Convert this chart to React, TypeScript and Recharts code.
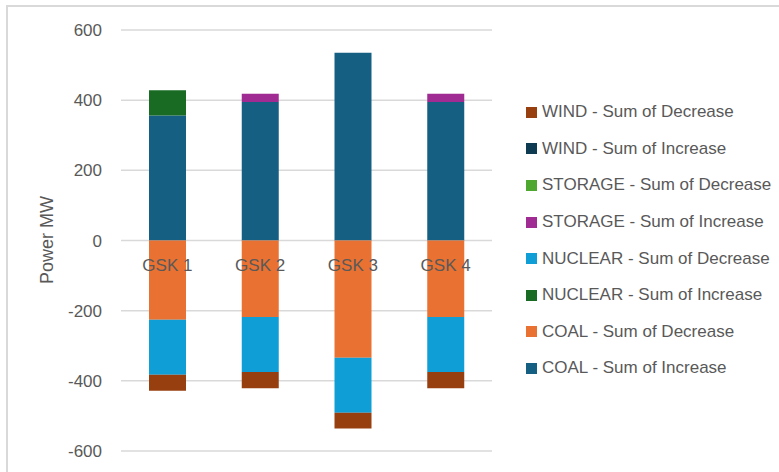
import { BarChart, Bar, XAxis, YAxis, CartesianGrid, Label } from "recharts"

const categories = ["GSK 1", "GSK 2", "GSK 3", "GSK 4"]

// series in Excel plot order (legend shows them reversed)
const coalIncrease = [356, 395, 535, 395]
const coalDecrease = [-226, -218, -334, -218]
const nuclearIncrease = [72, 0, 0, 0]
const nuclearDecrease = [-157, -157, -157, -157]
const storageIncrease = [0, 23, 0, 23]
const storageDecrease = [0, 0, 0, 0]
const windIncrease = [0, 0, 0, 0]
const windDecrease = [-45, -46, -45, -46]

const yTicks = [-600, -400, -200, 0, 200, 400, 600]

const series = [
  { key: "coalInc", name: "COAL - Sum of Increase", values: coalIncrease, color: "#156082" },
  { key: "coalDec", name: "COAL - Sum of Decrease", values: coalDecrease, color: "#E97132" },
  { key: "nucInc", name: "NUCLEAR - Sum of Increase", values: nuclearIncrease, color: "#196B24" },
  { key: "nucDec", name: "NUCLEAR - Sum of Decrease", values: nuclearDecrease, color: "#0F9ED5" },
  { key: "stoInc", name: "STORAGE - Sum of Increase", values: storageIncrease, color: "#A02B93" },
  { key: "stoDec", name: "STORAGE - Sum of Decrease", values: storageDecrease, color: "#4EA72E" },
  { key: "windInc", name: "WIND - Sum of Increase", values: windIncrease, color: "#0E3A52" },
  { key: "windDec", name: "WIND - Sum of Decrease", values: windDecrease, color: "#983F10" },
]

const data = categories.map((name, i) => {
  const row: any = { name }
  series.forEach((s) => {
    row[s.key] = s.values[i]
  })
  return row
})

const FONT = "'Liberation Sans', Arial, sans-serif"
const TEXT = "#595959"

const TOP = 30
const PLOT_H = 421

// category labels sit just under the zero line, like Excel's "next to axis"
const CategoryTick = (props: any) => {
  const { x, payload } = props
  const zeroY = TOP + PLOT_H / 2
  return (
    <text
      x={x}
      y={zeroY + 25}
      textAnchor="middle"
      dominantBaseline="central"
      fill={TEXT}
      fontSize={17}
      fontFamily={FONT}
    >
      {payload.value}
    </text>
  )
}

const LegendList = () => (
  <div
    style={{
      position: "absolute",
      left: 526,
      top: 94,
      fontFamily: FONT,
      fontSize: 17,
      color: TEXT,
    }}
  >
    {[...series].reverse().map((s) => (
      <div
        key={s.key}
        style={{ display: "flex", alignItems: "center", height: 36.6, whiteSpace: "nowrap" }}
      >
        <span
          style={{
            display: "inline-block",
            width: 11,
            height: 11,
            background: s.color,
            marginRight: 5,
          }}
        />
        {s.name}
      </div>
    ))}
  </div>
)

export default function App() {
  return (
    <div style={{ position: "absolute", left: 0, top: 0, width: 779, height: 472, background: "#fff" }}>
      <div
        style={{
          position: "absolute",
          left: 6,
          top: 5,
          right: 0,
          bottom: 0,
          borderTop: "2px solid #d9d9d9",
          borderLeft: "2px solid #d9d9d9",
        }}
      />
      <BarChart
        width={779}
        height={472}
        data={data}
        stackOffset="sign"
        margin={{ top: TOP, right: 287, bottom: 0, left: 0 }}
        style={{ position: "absolute", left: 0, top: 0 }}
      >
        <CartesianGrid vertical={false} stroke="#d9d9d9" strokeWidth={1.5} />
        <YAxis
          width={121}
          domain={[-600, 600]}
          ticks={yTicks}
          axisLine={false}
          tickLine={false}
          tickSize={0}
          tickMargin={19}
          tick={{ fill: TEXT, fontSize: 17, fontFamily: FONT }}
        >
          <Label
            content={() => (
              <text
                x={47}
                y={240}
                transform="rotate(-90 47 240)"
                textAnchor="middle"
                dominantBaseline="central"
                fill={TEXT}
                fontSize={18}
                fontFamily={FONT}
              >
                Power MW
              </text>
            )}
          />
        </YAxis>
        {series.map((s) => (
          <Bar
            key={s.key}
            dataKey={s.key}
            name={s.name}
            stackId="a"
            fill={s.color}
            barSize={37}
            isAnimationActive={false}
          />
        ))}
        <XAxis
          dataKey="name"
          height={21}
          axisLine={false}
          tickLine={false}
          tick={<CategoryTick />}
        />
      </BarChart>
      <LegendList />
    </div>
  )
}
